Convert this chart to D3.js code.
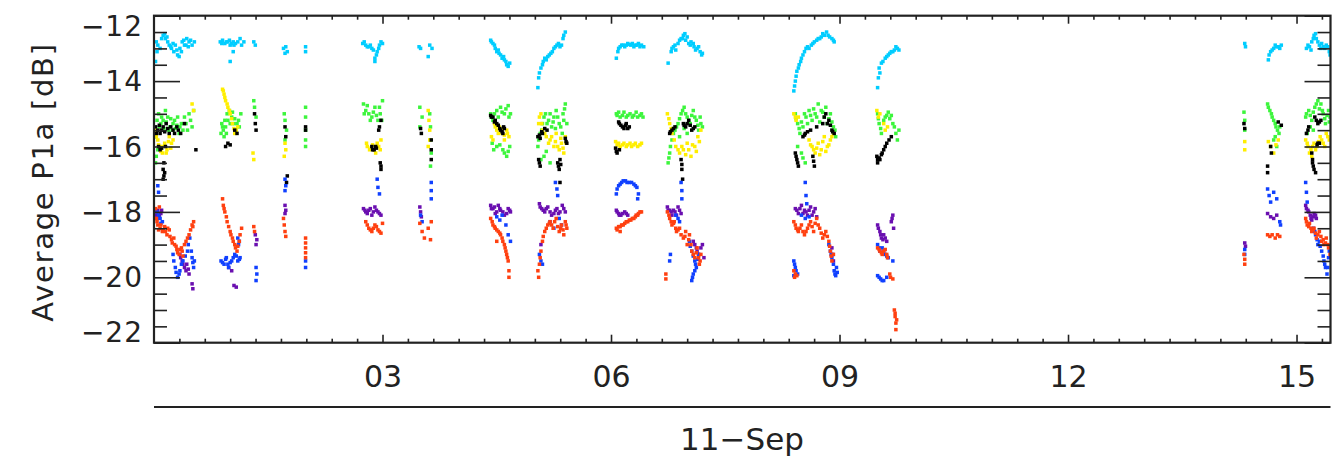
<!DOCTYPE html>
<html><head><meta charset="utf-8">
<script src="https://cdn.jsdelivr.net/npm/d3@7"></script>
<style>body{margin:0;background:#fff;}svg{display:block}</style>
</head><body><svg id="c" width="1336" height="459"></svg>
<script>
// ---- data: [hour of 11-Sep, dB] ----
const cyanPts = [
[0.02,-13.4],[0.05,-12.9],[0.08,-13.0],[0.12,-12.6],[0.15,-12.7],[0.18,-12.8],[0.2,-12.9],[0.23,-13.0],[0.26,-13.1],[0.28,-12.9],[0.31,-13.2],[0.34,-13.0],[0.37,-12.8],[0.4,-12.9],[0.43,-12.7],[0.46,-12.8],[0.5,-12.9],[0.53,-12.8],
[0.1,-12.7],[0.14,-12.55],[0.17,-12.65],[0.22,-12.95],[0.25,-12.85],[0.3,-13.05],[0.33,-13.25],[0.36,-13.1],[0.39,-12.75],[0.42,-12.9],[0.45,-12.95],[0.48,-12.75],[0.04,-13.1],[0.03,-12.8],
[0.87,-12.8],[0.9,-12.75],[0.93,-12.85],[0.97,-12.8],[1.0,-12.9],[1.04,-12.8],[1.07,-12.85],[1.0,-13.4],[1.13,-12.7],[1.15,-12.9],
[0.89,-12.85],[0.95,-12.8],[0.99,-12.75],[1.02,-12.85],[1.05,-12.9],[1.1,-12.8],[1.04,-13.1],[1.18,-12.8],
[1.31,-12.8],[1.33,-12.9],
[1.70,-13.0],[1.73,-12.95],[1.75,-13.1],[1.72,-13.15],
[1.99,-12.95],[1.99,-13.1],
[2.74,-12.85],[2.78,-12.9],[2.82,-12.95],[2.86,-13.0],[2.9,-13.3],[2.93,-13.1],[2.96,-12.9],[3.0,-12.85],[2.9,-13.4],
[2.76,-12.8],[2.8,-12.95],[2.84,-12.9],[2.88,-13.05],[2.92,-13.2],[2.95,-13.0],[2.98,-12.8],
[3.48,-12.95],[3.5,-13.0],[3.62,-12.9],[3.65,-13.0],[3.6,-13.25],
[4.42,-12.75],[4.45,-12.85],[4.48,-13.0],[4.5,-13.1],[4.53,-13.15],[4.57,-13.3],[4.6,-13.35],[4.63,-13.5],[4.67,-13.45],
[4.43,-12.8],[4.47,-12.9],[4.52,-13.05],[4.55,-13.2],[4.59,-13.25],[4.62,-13.4],[4.65,-13.55],
[5.04,-14.2],[5.05,-13.9],[5.08,-13.6],[5.11,-13.4],[5.15,-13.35],[5.19,-13.2],[5.23,-13.1],[5.27,-12.95],[5.31,-12.85],[5.35,-12.9],[5.38,-12.6],[5.4,-12.5],
[5.06,-13.75],[5.1,-13.5],[5.13,-13.3],[5.17,-13.25],[5.21,-13.15],[5.25,-13.0],[5.29,-12.9],[5.33,-12.95],[5.37,-12.7],
[6.07,-13.3],[6.09,-13.1],[6.12,-12.95],[6.16,-12.9],[6.2,-12.9],[6.24,-12.88],[6.28,-12.85],[6.32,-12.9],[6.36,-12.85],[6.4,-12.9],[6.43,-12.95],
[6.1,-13.0],[6.14,-12.9],[6.18,-12.95],[6.22,-12.85],[6.26,-12.9],[6.3,-12.95],[6.34,-12.9],[6.38,-12.95],
[6.75,-13.45],[6.79,-13.1],[6.82,-12.95],[6.85,-13.05],[6.88,-12.85],[6.92,-12.7],[6.95,-12.6],[6.98,-12.75],[7.02,-12.85],[7.05,-12.8],[7.09,-12.95],[7.13,-13.0],[7.17,-13.1],[7.2,-13.15],
[6.8,-13.0],[6.84,-12.9],[6.9,-12.75],[6.94,-12.7],[6.97,-12.55],[7.0,-12.65],[7.04,-12.9],[7.08,-12.85],[7.11,-13.05],[7.15,-12.95],[7.19,-13.2],
[8.4,-14.3],[8.42,-14.0],[8.44,-13.7],[8.47,-13.5],[8.5,-13.3],[8.54,-13.1],[8.58,-12.95],[8.63,-12.9],[8.67,-12.8],[8.72,-12.7],[8.76,-12.65],[8.8,-12.6],[8.85,-12.6],[8.9,-12.7],[8.93,-12.8],
[8.41,-14.15],[8.43,-13.85],[8.46,-13.6],[8.49,-13.4],[8.52,-13.2],[8.56,-13.0],[8.6,-13.0],[8.65,-12.85],[8.7,-12.75],[8.74,-12.7],[8.78,-12.55],[8.83,-12.5],[8.87,-12.65],[8.92,-12.75],
[9.5,-14.2],[9.51,-13.9],[9.52,-13.6],[9.55,-13.45],[9.6,-13.3],[9.64,-13.2],[9.68,-13.1],[9.72,-13.05],[9.76,-13.0],
[9.53,-13.75],[9.57,-13.4],[9.62,-13.25],[9.66,-13.15],[9.7,-13.1],[9.74,-12.95],[9.78,-13.05],
[14.32,-12.85],[14.33,-12.95],
[14.63,-13.35],[14.66,-13.1],[14.7,-13.0],[14.74,-12.95],[14.78,-13.0],[14.8,-12.9],
[14.64,-13.2],[14.68,-13.05],[14.72,-12.9],[14.76,-12.95],
[15.13,-13.0],[15.17,-12.95],[15.2,-12.8],[15.23,-12.6],[15.26,-12.7],[15.3,-12.9],[15.33,-12.85],[15.37,-13.0],[15.41,-12.95],[15.44,-13.2],
[15.15,-12.9],[15.19,-13.05],[15.22,-12.7],[15.25,-12.55],[15.28,-12.8],[15.32,-13.0],[15.35,-12.95],[15.39,-12.9],[15.43,-13.1]
];
const greenPts = [
[0.02,-16.5],[0.03,-15.7],[0.06,-15.0],[0.09,-15.3],[0.12,-15.2],[0.15,-14.9],[0.18,-15.1],[0.21,-15.4],[0.24,-15.5],[0.27,-15.2],[0.3,-15.35],[0.33,-15.6],[0.36,-15.3],[0.4,-15.1],[0.44,-15.5],[0.48,-15.2],[0.5,-15.4],[0.52,-14.9],
[0.04,-15.2],[0.07,-15.4],[0.1,-15.1],[0.13,-15.45],[0.16,-15.25],[0.19,-15.5],[0.22,-15.15],[0.25,-15.3],[0.28,-15.45],[0.31,-15.1],[0.34,-15.4],[0.38,-15.5],[0.42,-15.3],[0.46,-15.0],[0.03,-16.3],[0.05,-16.1],
[0.88,-15.6],[0.9,-15.4],[0.93,-15.2],[0.96,-15.0],[0.99,-14.9],[1.02,-15.1],[1.05,-15.3],[1.08,-15.5],[1.11,-15.2],[1.14,-15.0],[0.92,-15.7],
[0.89,-15.3],[0.91,-15.5],[0.94,-15.4],[0.97,-15.2],[1.0,-15.3],[1.03,-14.95],[1.06,-15.15],[1.09,-15.3],[1.12,-15.4],[0.95,-15.6],
[1.31,-14.6],[1.32,-14.8],[1.34,-15.1],
[1.71,-15.0],[1.72,-15.2],[1.74,-15.5],[1.72,-15.8],
[1.99,-14.8],[1.99,-15.1],[1.99,-15.5],[1.99,-15.8],[1.99,-16.0],
[2.75,-14.7],[2.78,-14.9],[2.82,-15.0],[2.86,-15.1],[2.9,-14.8],[2.94,-15.2],[2.97,-15.0],[3.0,-14.6],
[2.76,-15.0],[2.8,-14.75],[2.84,-15.2],[2.88,-14.95],[2.92,-15.05],[2.96,-14.8],[2.99,-15.2],
[3.49,-14.8],[3.52,-15.1],[3.49,-15.4],[3.62,-15.0],[3.63,-15.4],[3.63,-15.8],[3.64,-16.2],[3.63,-16.6],
[4.42,-15.0],[4.45,-15.2],[4.5,-14.9],[4.55,-14.8],[4.6,-15.0],[4.65,-14.75],[4.68,-15.0],[4.44,-15.9],[4.5,-16.0],[4.58,-16.1],[4.63,-16.3],[4.67,-16.0],
[4.43,-15.1],[4.47,-15.0],[4.52,-15.1],[4.57,-14.95],[4.62,-14.85],[4.66,-15.1],[4.46,-16.1],[4.54,-15.95],[4.6,-16.2],[4.65,-16.15],
[5.04,-16.0],[5.07,-15.6],[5.1,-15.3],[5.14,-15.0],[5.18,-15.2],[5.22,-15.4],[5.25,-15.1],[5.28,-14.9],[5.32,-15.3],[5.36,-15.6],[5.38,-15.2],[5.4,-14.7],[5.12,-16.3],[5.2,-16.5],
[5.05,-15.8],[5.09,-15.5],[5.12,-15.1],[5.16,-15.3],[5.2,-15.0],[5.24,-15.25],[5.27,-15.45],[5.3,-15.1],[5.34,-15.4],[5.37,-15.0],[5.39,-14.85],[5.42,-15.3],[5.15,-16.15],[5.08,-16.4],
[6.07,-15.0],[6.1,-14.95],[6.15,-15.05],[6.2,-15.1],[6.25,-15.0],[6.3,-15.05],[6.35,-15.1],[6.4,-15.0],
[6.08,-15.05],[6.12,-15.1],[6.17,-14.95],[6.22,-15.05],[6.28,-15.1],[6.33,-14.95],[6.38,-15.05],[6.42,-15.1],
[6.75,-16.5],[6.77,-16.2],[6.8,-15.8],[6.84,-15.5],[6.88,-15.3],[6.92,-15.0],[6.96,-14.8],[7.0,-15.1],[7.04,-15.3],[7.08,-14.9],[7.12,-15.2],[7.15,-15.5],[7.18,-15.3],[6.9,-15.7],[7.0,-15.6],
[6.76,-16.35],[6.78,-16.0],[6.82,-15.6],[6.86,-15.4],[6.9,-15.15],[6.94,-14.9],[6.98,-15.0],[7.02,-15.2],[7.06,-15.05],[7.1,-15.1],[7.14,-15.35],[7.17,-15.1],[7.2,-15.4],[6.96,-15.45],
[8.42,-15.0],[8.45,-15.3],[8.48,-15.6],[8.52,-15.4],[8.56,-15.1],[8.6,-14.9],[8.64,-15.2],[8.68,-15.0],[8.72,-14.7],[8.76,-14.9],[8.8,-15.1],[8.84,-15.3],[8.88,-15.0],[8.92,-15.4],[8.95,-15.7],[8.5,-16.2],[8.55,-16.5],
[8.43,-15.15],[8.47,-15.45],[8.5,-15.25],[8.54,-15.0],[8.58,-15.3],[8.62,-15.05],[8.66,-14.85],[8.7,-15.1],[8.74,-15.25],[8.78,-14.95],[8.82,-14.8],[8.86,-15.15],[8.9,-15.25],[8.94,-15.5],[8.52,-16.35],[8.45,-16.0],
[9.5,-15.0],[9.52,-15.3],[9.55,-15.6],[9.6,-15.1],[9.64,-14.95],[9.68,-15.05],[9.72,-15.4],[9.76,-15.8],[9.78,-15.5],
[9.51,-15.15],[9.54,-15.45],[9.58,-15.2],[9.62,-15.05],[9.66,-15.15],[9.7,-15.3],[9.74,-15.6],
[14.31,-14.95],[14.32,-15.2],[14.32,-15.5],
[14.62,-14.7],[14.65,-14.9],[14.68,-15.1],[14.72,-15.3],[14.75,-15.5],[14.78,-15.4],[14.7,-15.8],[14.74,-16.0],
[14.63,-14.8],[14.67,-15.0],[14.7,-15.2],[14.73,-15.4],[14.77,-15.6],[14.72,-15.7],
[15.12,-15.1],[15.16,-14.9],[15.2,-15.2],[15.24,-14.8],[15.28,-14.6],[15.32,-14.7],[15.35,-15.0],[15.38,-15.3],[15.42,-14.9],[15.44,-15.1],[15.14,-15.6],[15.22,-15.5],
[15.13,-15.0],[15.18,-15.05],[15.22,-14.95],[15.26,-14.7],[15.3,-14.85],[15.34,-14.9],[15.37,-15.15],[15.4,-15.05],[15.43,-15.25],[15.18,-15.4]
];
const yellowPts = [
[0.02,-15.5],[0.05,-15.8],[0.08,-16.0],[0.11,-16.2],[0.14,-15.9],[0.17,-16.1],[0.2,-15.7],[0.23,-15.9],[0.5,-14.7],[0.52,-14.9],
[0.03,-15.7],[0.06,-15.95],[0.09,-16.15],[0.12,-16.0],[0.16,-16.2],[0.19,-15.85],[0.22,-16.05],[0.25,-15.8],
[0.9,-14.25],[0.92,-14.4],[0.94,-14.6],[0.97,-14.8],[1.0,-15.0],[1.03,-15.3],[1.06,-15.6],[1.1,-15.4],
[0.91,-14.3],[0.93,-14.5],[0.96,-14.7],[0.99,-14.9],[1.02,-15.15],[1.05,-15.45],[1.08,-15.5],
[1.3,-16.2],[1.31,-16.4],
[1.72,-15.9],[1.73,-16.1],[1.71,-16.3],
[2.79,-15.9],[2.83,-16.1],[2.87,-15.95],[2.91,-16.2],[2.95,-16.0],[2.98,-15.8],
[2.8,-16.0],[2.85,-16.05],[2.89,-16.1],[2.93,-15.9],[2.97,-16.1],
[3.6,-14.9],[3.61,-15.2],[3.62,-15.5],[3.62,-15.8],[3.6,-16.0],
[4.47,-15.3],[4.5,-15.5],[4.53,-15.4],[4.57,-15.6],[4.6,-15.8],[4.63,-15.5],[4.66,-15.7],[4.43,-15.7],
[4.48,-15.4],[4.52,-15.6],[4.56,-15.45],[4.6,-15.65],[4.64,-15.6],[4.45,-15.8],
[5.05,-15.3],[5.08,-15.0],[5.1,-15.5],[5.15,-15.7],[5.2,-15.8],[5.25,-16.0],[5.28,-15.6],[5.32,-16.1],[5.35,-15.9],[5.38,-16.2],[5.4,-15.7],
[5.06,-15.1],[5.09,-15.3],[5.13,-15.6],[5.18,-15.9],[5.22,-15.7],[5.27,-15.85],[5.3,-16.0],[5.34,-15.75],[5.37,-16.05],[5.41,-15.9],
[6.06,-15.85],[6.1,-15.9],[6.15,-15.95],[6.2,-16.0],[6.25,-15.9],[6.3,-15.95],[6.35,-16.0],[6.4,-15.9],
[6.08,-15.95],[6.12,-16.0],[6.17,-15.9],[6.22,-15.95],[6.27,-16.0],[6.32,-15.9],[6.38,-15.95],
[6.74,-15.0],[6.77,-15.3],[6.8,-15.6],[6.85,-16.0],[6.9,-16.2],[6.95,-16.1],[7.0,-15.9],[7.05,-16.3],[7.1,-16.0],[7.14,-15.7],[7.18,-15.5],
[6.76,-15.15],[6.79,-15.45],[6.83,-15.8],[6.88,-16.1],[6.93,-16.0],[6.98,-16.25],[7.02,-16.1],[7.07,-15.95],[7.12,-16.15],[7.16,-15.85],
[8.4,-15.0],[8.43,-15.2],[8.46,-15.1],[8.6,-15.8],[8.64,-16.0],[8.68,-16.2],[8.72,-15.9],[8.76,-16.1],[8.8,-15.7],[8.84,-16.0],[8.88,-15.8],[8.92,-15.6],
[8.42,-15.1],[8.62,-15.95],[8.66,-16.1],[8.7,-16.05],[8.74,-16.25],[8.78,-15.85],[8.82,-16.15],[8.86,-15.95],[8.9,-15.7],
[9.49,-14.9],[9.51,-15.1],[9.53,-15.0],[9.58,-15.3],[9.6,-15.5],[9.63,-15.4],
[14.32,-15.85],[14.32,-16.1],
[14.63,-15.85],[14.66,-16.0],[14.7,-16.2],[14.73,-15.95],[14.76,-15.8],
[15.12,-15.8],[15.15,-16.0],[15.19,-16.1],[15.23,-15.9],[15.27,-16.0],[15.31,-15.7],[15.35,-15.9],[15.39,-15.6],[15.43,-15.8],[15.2,-16.3],
[15.14,-15.9],[15.17,-16.2],[15.21,-16.0],[15.25,-16.1],[15.29,-15.85],[15.33,-15.8],[15.37,-16.0],[15.41,-15.7]
];
const blackPts = [
[0.02,-15.4],[0.05,-15.5],[0.08,-15.6],[0.12,-15.4],[0.16,-15.3],[0.2,-15.6],[0.25,-15.5],[0.3,-15.4],[0.35,-15.6],[0.4,-15.3],[0.06,-16.0],[0.1,-16.05],[0.15,-16.0],[0.13,-16.5],[0.14,-16.8],[0.12,-17.0],[0.55,-16.1],
[0.03,-15.6],[0.07,-15.35],[0.1,-15.5],[0.14,-15.55],[0.18,-15.45],[0.22,-15.4],[0.27,-15.6],[0.32,-15.5],[0.08,-16.1],[0.12,-16.7],[0.13,-16.9],
[0.94,-16.0],[0.97,-15.9],[1.0,-15.95],[1.06,-15.5],[1.09,-15.6],
[1.32,-15.0],[1.33,-15.3],[1.34,-15.5],
[1.72,-15.4],[1.73,-15.7],[1.75,-16.9],[1.74,-17.1],
[1.99,-15.4],[1.99,-15.5],
[2.86,-16.0],[2.89,-16.1],[2.92,-16.05],[2.95,-15.5],[2.98,-15.2],[2.97,-16.5],[2.98,-16.7],
[2.87,-16.1],[2.91,-16.0],[2.96,-15.4],[2.98,-16.6],
[3.5,-15.45],[3.51,-15.6],[3.64,-15.8],[3.64,-16.1],[3.64,-16.4],
[4.42,-15.05],[4.45,-15.1],[4.48,-15.2],[4.52,-15.35],[4.55,-15.5],[4.58,-15.6],[4.6,-15.45],
[4.43,-15.1],[4.47,-15.25],[4.5,-15.3],[4.54,-15.45],[4.57,-15.55],[4.59,-15.4],
[5.04,-15.7],[5.07,-15.75],[5.1,-15.6],[5.16,-15.5],[5.05,-16.4],[5.07,-16.6],[5.3,-16.5],[5.32,-16.7],[5.34,-16.55],[5.33,-17.1],[5.4,-15.75],[5.42,-15.9],
[5.06,-15.65],[5.09,-15.55],[5.13,-15.45],[5.06,-16.5],[5.31,-16.6],[5.33,-16.4],[5.41,-15.85],
[6.1,-15.25],[6.13,-15.35],[6.17,-15.45],[6.2,-15.3],[6.24,-15.4],[6.06,-16.05],[6.08,-16.2],[6.11,-16.1],
[6.11,-15.3],[6.15,-15.4],[6.19,-15.35],[6.22,-15.45],[6.07,-16.15],
[6.77,-15.6],[6.8,-15.5],[6.84,-15.4],[6.95,-15.3],[6.98,-15.4],[7.02,-15.2],[7.06,-15.5],[7.1,-15.4],[6.92,-16.4],[6.93,-16.7],[6.94,-17.0],
[6.78,-15.55],[6.82,-15.45],[6.96,-15.35],[7.0,-15.3],[7.04,-15.35],[7.08,-15.45],[6.93,-16.55],
[8.42,-16.2],[8.44,-16.4],[8.46,-16.6],[8.52,-15.7],[8.55,-15.6],[8.62,-15.5],[8.7,-15.4],[8.78,-15.3],[8.82,-15.0],[8.86,-15.2],[8.9,-15.5],[8.93,-15.6],[8.65,-16.3],[8.67,-16.6],
[8.43,-16.3],[8.45,-16.5],[8.54,-15.65],[8.58,-15.55],[8.8,-15.1],[8.84,-15.3],[8.88,-15.35],[8.91,-15.55],[8.66,-16.45],
[9.49,-16.3],[9.5,-16.5],[9.53,-16.4],[9.56,-16.2],[9.6,-16.0],[9.65,-15.8],[9.68,-15.7],
[9.5,-16.4],[9.52,-16.35],[9.55,-16.25],[9.58,-16.1],[9.62,-15.9],
[14.31,-15.3],[14.32,-15.45],
[14.76,-15.25],[14.8,-15.35],[14.66,-16.0],[14.67,-16.2],[14.62,-16.6],[14.62,-16.8],
[15.13,-15.6],[15.16,-15.4],[15.24,-15.1],[15.28,-15.3],[15.32,-15.2],[15.27,-15.95],[15.3,-15.9],[15.2,-16.2],[15.21,-16.4],[15.22,-16.6],[15.25,-16.8],
[15.15,-15.5],[15.26,-15.2],[15.3,-15.25],[15.28,-15.9],[15.21,-16.5],[15.23,-16.7]
];
const bluePts = [
[0.05,-17.2],[0.06,-17.4],[0.04,-18.0],[0.08,-18.2],[0.11,-18.3],[0.25,-19.3],[0.28,-19.7],[0.31,-20.0],[0.34,-19.8],[0.38,-19.5],[0.44,-19.2],[0.47,-18.8],[0.5,-19.4],[0.52,-19.7],[0.53,-19.5],
[0.26,-19.5],[0.29,-19.85],[0.33,-19.9],[0.36,-19.6],[0.41,-19.35],[0.45,-19.0],[0.49,-19.2],[0.51,-19.55],[0.06,-18.1],[0.09,-18.35],
[0.88,-19.5],[0.92,-19.6],[0.95,-19.4],[0.98,-19.7],[1.02,-19.5],[1.06,-19.3],[1.1,-19.5],[1.13,-19.4],[1.12,-18.9],[1.1,-18.8],
[0.9,-19.55],[0.94,-19.45],[0.97,-19.6],[1.0,-19.55],[1.04,-19.4],[1.08,-19.35],[1.11,-19.0],[1.12,-19.45],
[1.34,-19.7],[1.35,-19.9],[1.34,-20.1],
[1.72,-17.0],[1.73,-17.2],[1.72,-17.35],
[1.99,-19.5],[1.99,-19.7],
[2.93,-17.0],[2.94,-17.25],[2.96,-17.45],
[3.64,-17.1],[3.64,-17.35],[3.64,-17.6],[3.5,-18.1],[3.52,-18.3],
[4.5,-18.15],[4.54,-18.25],[4.57,-18.1],[4.62,-18.4],[4.65,-18.7],[4.68,-18.9],
[5.27,-17.1],[5.29,-17.3],[5.3,-17.5],[5.06,-19.3],[5.08,-19.5],[5.1,-19.6],[5.2,-18.3],[5.25,-18.5],[5.32,-18.2],[5.35,-18.4],
[6.07,-17.45],[6.1,-17.2],[6.14,-17.1],[6.19,-17.05],[6.24,-17.1],[6.3,-17.15],[6.34,-17.25],[6.36,-17.45],[6.35,-17.6],
[6.08,-17.3],[6.12,-17.15],[6.16,-17.05],[6.21,-17.1],[6.27,-17.1],[6.32,-17.2],
[6.92,-17.1],[6.93,-17.35],[6.93,-17.6],[6.85,-18.1],[6.9,-18.3],[6.88,-18.2],[7.03,-18.9],[7.06,-19.2],[7.1,-19.5],[7.12,-19.7],[7.08,-19.9],[7.06,-20.1],[7.15,-19.3],[6.78,-19.3],[6.77,-19.5],
[7.04,-19.05],[7.08,-19.35],[7.11,-19.6],[7.1,-19.8],[7.07,-20.0],[7.14,-19.45],
[8.55,-17.1],[8.56,-17.5],[8.57,-17.75],[8.5,-18.1],[8.55,-18.2],[8.6,-18.15],[8.4,-19.5],[8.42,-19.7],[8.4,-19.95],[8.45,-19.9],[8.88,-19.2],[8.9,-19.4],[8.93,-19.8],[8.95,-19.95],[8.97,-19.85],[8.86,-19.0],
[8.41,-19.6],[8.43,-19.8],[8.89,-19.3],[8.92,-19.6],[8.94,-19.9],[8.96,-19.7],
[9.5,-19.0],[9.53,-19.2],[9.56,-19.1],[9.6,-19.3],[9.64,-19.4],[9.7,-19.5],[9.5,-19.95],[9.54,-20.05],[9.58,-20.1],[9.62,-20.0],
[9.52,-19.1],[9.58,-19.2],[9.62,-19.35],[9.52,-20.0],[9.56,-20.1],
[14.32,-19.15],[14.32,-19.3],
[14.62,-17.3],[14.64,-17.5],[14.66,-17.7],[14.7,-17.4],[14.74,-17.6],[14.78,-18.3],[14.79,-18.4],
[15.12,-17.1],[15.13,-17.4],[15.14,-17.7],[15.22,-18.5],[15.25,-18.7],[15.28,-19.0],[15.3,-18.9],[15.33,-19.2],[15.36,-19.5],[15.38,-19.7],[15.4,-19.9],[15.42,-19.4],[15.44,-19.1],
[15.24,-18.6],[15.27,-18.85],[15.31,-19.05],[15.35,-19.35],[15.37,-19.6],[15.41,-19.7],[15.43,-19.2]
];
const purplePts = [
[0.02,-18.0],[0.04,-18.2],[0.07,-18.1],[0.1,-17.95],[0.34,-19.3],[0.37,-19.5],[0.4,-19.7],[0.43,-19.6],[0.46,-19.9],[0.5,-20.2],[0.51,-20.35],
[0.03,-18.1],[0.05,-17.95],[0.09,-18.05],[0.35,-19.4],[0.38,-19.6],[0.42,-19.8],[0.45,-19.75],
[0.98,-19.7],[1.02,-19.8],[1.05,-20.25],[1.08,-20.3],
[1.33,-18.7],[1.35,-18.85],[1.34,-19.0],
[1.72,-17.8],[1.73,-17.95],[1.72,-18.05],
[2.75,-17.9],[2.78,-18.0],[2.82,-17.95],[2.86,-18.1],[2.9,-17.85],[2.94,-18.0],[2.98,-18.1],
[2.77,-17.95],[2.8,-18.05],[2.84,-17.9],[2.88,-18.0],[2.92,-17.95],[2.96,-18.05],
[3.49,-17.85],[3.5,-18.0],[3.51,-18.15],
[4.42,-17.8],[4.45,-17.9],[4.48,-18.05],[4.52,-17.8],[4.55,-17.95],[4.6,-18.1],[4.65,-17.9],[4.68,-18.0],
[4.43,-17.9],[4.47,-17.85],[4.5,-18.0],[4.54,-17.9],[4.58,-18.0],[4.63,-18.05],[4.67,-17.95],
[5.06,-17.75],[5.09,-17.9],[5.13,-18.0],[5.17,-17.85],[5.22,-18.1],[5.27,-17.95],[5.31,-18.05],[5.36,-17.8],[5.4,-18.0],[5.08,-19.0],
[5.07,-17.85],[5.11,-17.95],[5.15,-17.9],[5.2,-18.0],[5.25,-18.05],[5.29,-17.9],[5.33,-18.0],[5.38,-17.9],
[6.07,-17.95],[6.1,-18.05],[6.13,-18.1],[6.18,-18.0],[6.22,-18.1],
[6.08,-18.0],[6.11,-18.1],[6.15,-18.05],[6.2,-18.05],
[6.74,-17.85],[6.77,-17.95],[6.8,-18.1],[6.84,-18.0],[6.88,-17.85],[6.92,-18.05],[7.08,-18.9],[7.12,-19.1],[7.15,-19.3],[7.2,-19.0],[7.22,-19.4],
[6.75,-17.95],[6.79,-18.0],[6.82,-17.95],[6.86,-18.1],[6.9,-17.95],[7.1,-19.0],[7.13,-19.2],[7.18,-19.1],
[8.42,-17.9],[8.46,-18.05],[8.5,-17.8],[8.54,-17.95],[8.58,-18.1],[8.62,-17.85],[8.66,-18.0],[8.7,-18.15],[8.9,-19.1],[8.91,-19.3],[8.92,-19.5],
[8.44,-17.95],[8.48,-17.9],[8.52,-18.05],[8.56,-18.0],[8.6,-17.95],[8.64,-18.1],[8.68,-17.9],
[9.5,-18.4],[9.53,-18.6],[9.55,-18.8],[9.58,-18.7],[9.62,-18.9],[9.68,-18.3],[9.7,-18.1],[9.71,-18.5],
[9.51,-18.5],[9.54,-18.7],[9.57,-18.85],[9.6,-18.8],[9.69,-18.2],
[14.32,-18.95],[14.33,-19.05],
[14.62,-18.05],[14.66,-18.15],[14.7,-18.2],[14.74,-18.1],
[15.12,-17.8],[15.15,-17.95],[15.18,-18.1],[15.2,-18.25],[15.23,-18.05],[15.26,-18.2],
[15.13,-17.9],[15.16,-18.0],[15.19,-18.2],[15.22,-18.15],[15.25,-18.1]
];
const redPts = [
[0.02,-17.9],[0.03,-18.2],[0.05,-18.4],[0.08,-18.5],[0.11,-18.6],[0.14,-18.45],[0.17,-18.7],[0.2,-18.55],[0.23,-18.85],[0.27,-19.0],[0.3,-19.15],[0.33,-19.3],[0.36,-19.1],[0.38,-19.35],[0.42,-18.9],[0.46,-18.7],[0.5,-18.4],[0.52,-18.3],[0.07,-17.85],
[0.04,-18.3],[0.06,-18.55],[0.09,-18.4],[0.12,-18.55],[0.15,-18.6],[0.18,-18.5],[0.21,-18.75],[0.24,-18.95],[0.26,-18.8],[0.29,-19.05],[0.31,-19.25],[0.34,-19.15],[0.37,-19.2],[0.4,-19.0],[0.44,-18.8],[0.48,-18.55],[0.51,-18.45],
[0.9,-17.6],[0.91,-17.8],[0.93,-18.0],[0.96,-18.3],[1.0,-18.6],[1.03,-18.8],[1.06,-19.0],[1.09,-19.2],[1.12,-18.9],[1.15,-18.5],
[0.92,-17.9],[0.95,-18.15],[0.98,-18.45],[1.01,-18.7],[1.04,-18.9],[1.07,-19.1],[1.1,-19.05],[1.13,-18.7],
[1.31,-18.45],[1.32,-18.6],
[1.7,-18.2],[1.71,-18.4],[1.72,-18.6],[1.73,-18.75],
[1.99,-18.8],[1.99,-18.95],[1.99,-19.1],[1.99,-19.25],[1.99,-19.4],
[2.78,-18.3],[2.82,-18.5],[2.86,-18.6],[2.9,-18.4],[2.94,-18.55],[2.98,-18.65],[3.0,-18.35],
[2.8,-18.4],[2.84,-18.55],[2.88,-18.5],[2.92,-18.45],[2.96,-18.6],
[3.49,-18.35],[3.52,-18.6],[3.55,-18.8],[3.6,-18.5],[3.63,-18.85],[3.64,-18.3],
[4.42,-18.2],[4.45,-18.4],[4.48,-18.5],[4.52,-18.6],[4.55,-18.7],[4.58,-18.9],[4.61,-19.1],[4.63,-19.3],[4.65,-19.5],[4.66,-19.8],[4.66,-20.0],[4.5,-18.9],
[4.44,-18.3],[4.47,-18.45],[4.5,-18.55],[4.54,-18.65],[4.57,-18.8],[4.6,-19.0],[4.62,-19.2],[4.64,-19.4],
[5.04,-19.8],[5.05,-20.0],[5.06,-19.6],[5.08,-19.2],[5.1,-18.9],[5.13,-18.6],[5.17,-18.4],[5.2,-18.3],[5.24,-18.5],[5.28,-18.2],[5.32,-18.6],[5.35,-18.4],[5.38,-18.7],[5.4,-18.3],[5.42,-18.5],
[5.11,-18.75],[5.15,-18.5],[5.19,-18.35],[5.22,-18.4],[5.26,-18.3],[5.3,-18.45],[5.34,-18.5],[5.37,-18.55],[5.41,-18.4],[5.07,-19.4],
[6.07,-18.5],[6.1,-18.45],[6.14,-18.4],[6.18,-18.35],[6.22,-18.3],[6.26,-18.25],[6.3,-18.2],[6.33,-18.1],[6.36,-18.05],[6.4,-18.0],[6.12,-18.6],
[6.08,-18.55],[6.12,-18.45],[6.16,-18.4],[6.2,-18.3],[6.24,-18.25],[6.28,-18.2],[6.32,-18.15],[6.35,-18.1],[6.38,-18.0],
[6.74,-18.0],[6.77,-18.2],[6.8,-18.4],[6.83,-18.3],[6.86,-18.6],[6.9,-18.5],[6.95,-18.8],[6.98,-18.6],[7.0,-19.0],[7.03,-18.7],[7.06,-19.2],[7.1,-19.4],[7.13,-19.1],[7.16,-19.6],[7.18,-19.3],[6.72,-19.9],[6.72,-20.05],
[6.76,-18.1],[6.79,-18.3],[6.82,-18.35],[6.85,-18.5],[6.88,-18.55],[6.92,-18.7],[6.97,-18.75],[7.02,-18.85],[7.05,-19.0],[7.08,-19.3],[7.12,-19.25],[7.15,-19.4],[7.17,-19.5],
[8.4,-18.3],[8.43,-18.5],[8.46,-18.6],[8.5,-18.4],[8.54,-18.7],[8.58,-18.5],[8.62,-18.3],[8.66,-18.6],[8.7,-18.2],[8.74,-18.5],[8.78,-18.8],[8.82,-18.6],[8.86,-18.9],[8.88,-19.2],[8.9,-19.5],[8.92,-19.3],[8.4,-19.8],[8.41,-20.0],[8.44,-19.95],
[8.42,-18.4],[8.45,-18.55],[8.48,-18.5],[8.52,-18.6],[8.56,-18.6],[8.6,-18.4],[8.64,-18.45],[8.68,-18.35],[8.72,-18.4],[8.76,-18.65],[8.8,-18.7],[8.84,-18.75],[8.87,-19.05],[8.89,-19.35],[8.42,-19.9],
[9.5,-19.1],[9.53,-19.2],[9.56,-19.3],[9.6,-19.15],[9.63,-19.4],[9.66,-19.9],[9.67,-20.0],[9.7,-20.05],[9.72,-21.0],[9.73,-21.2],[9.74,-21.4],[9.75,-21.3],[9.74,-21.6],
[9.52,-19.15],[9.55,-19.25],[9.58,-19.2],[9.62,-19.3],[9.73,-21.1],
[14.31,-19.3],[14.32,-19.45],[14.32,-19.6],
[14.62,-18.7],[14.65,-18.75],[14.68,-18.7],[14.72,-18.8],[14.75,-18.7],[14.78,-18.75],
[15.12,-18.2],[15.14,-18.4],[15.17,-18.35],[15.2,-18.6],[15.23,-18.5],[15.26,-18.8],[15.3,-18.6],[15.33,-18.9],[15.36,-19.0],[15.39,-18.8],[15.42,-19.1],[15.44,-19.3],
[15.13,-18.3],[15.16,-18.45],[15.19,-18.5],[15.22,-18.55],[15.25,-18.65],[15.28,-18.7],[15.32,-18.75],[15.35,-18.85],[15.38,-18.95],[15.41,-19.0]
];
const xTickValues = [3, 6, 9, 12, 15];
const xTickLabels = ["03", "06", "09", "12", "15"];
const yTickValues = [-12, -14, -16, -18, -20, -22];
const yTitle = "Average P1a [dB]";
const xTitle = "11\u2212Sep";

// ---- layout ----
const svg = d3.select("#c");
const L = 154, R = 1330.5, T = 15.7, B = 342.7;
const x = d3.scaleLinear().domain([0, 15.446]).range([L, R]);
const y = d3.scaleLinear().domain([-22, -12]).range([B, T]);
const ink = "#222";
const font = "DejaVu Sans, sans-serif";
const S = 3.5; // marker size

svg.append("defs").append("clipPath").attr("id", "clip")
  .append("rect").attr("x", L).attr("y", T).attr("width", R - L).attr("height", B - T);

const series = [
  {c: "#00cdff", p: cyanPts},
  {c: "#3cf53c", p: greenPts},
  {c: "#ffee00", p: yellowPts},
  {c: "#000000", p: blackPts},
  {c: "#6a0fb0", p: purplePts},
  {c: "#1040ff", p: bluePts},
  {c: "#ff4010", p: redPts}
];
const gd = svg.append("g").attr("clip-path", "url(#clip)");
series.forEach(s => {
  gd.append("g").selectAll("rect").data(s.p).join("rect")
    .attr("x", d => x(d[0]) - S / 2).attr("y", d => y(d[1]) - S / 2)
    .attr("width", S).attr("height", S).attr("fill", s.c);
});

// minor tick values (every 20 min / every 0.5 dB)
const xMinor = d3.range(1, 47).map(i => i / 3).filter(v => Math.abs(v - Math.round(v / 3) * 3) > 1e-6 && v < 15.446);
const yMinor = d3.range(-22, -11.9, 0.5).filter(v => v % 2 !== 0);

function styleAxis(g) {
  g.select(".domain").remove();
  g.selectAll("line").attr("stroke", ink).attr("stroke-width", 1.6);
  g.selectAll("text").attr("fill", ink).attr("font-family", font);
}
// bottom
svg.append("g").attr("transform", `translate(0,${B})`)
  .call(d3.axisBottom(x).tickValues(xTickValues).tickSize(-8).tickPadding(23)
    .tickFormat((d, i) => xTickLabels[i]))
  .call(styleAxis).call(g => g.selectAll("text").attr("font-size", 30));
svg.append("g").attr("transform", `translate(0,${B})`)
  .call(d3.axisBottom(x).tickValues(xMinor).tickSize(-4).tickFormat(""))
  .call(styleAxis);
// top
svg.append("g").attr("transform", `translate(0,${T})`)
  .call(d3.axisTop(x).tickValues(xTickValues).tickSize(-8).tickFormat(""))
  .call(styleAxis);
svg.append("g").attr("transform", `translate(0,${T})`)
  .call(d3.axisTop(x).tickValues(xMinor).tickSize(-4).tickFormat(""))
  .call(styleAxis);
// left
svg.append("g").attr("transform", `translate(${L},0)`)
  .call(d3.axisLeft(y).tickValues(yTickValues).tickSize(-26).tickPadding(11))
  .call(styleAxis)
  .call(g => g.selectAll("text").attr("font-size", 28).attr("letter-spacing", 1)
    .attr("dy", d => d === -12 ? "0.72em" : d === -22 ? "-0.04em" : "0.34em"));
svg.append("g").attr("transform", `translate(${L},0)`)
  .call(d3.axisLeft(y).tickValues(yMinor).tickSize(-13).tickFormat(""))
  .call(styleAxis);
// right
svg.append("g").attr("transform", `translate(${R},0)`)
  .call(d3.axisRight(y).tickValues(yTickValues).tickSize(-26).tickFormat(""))
  .call(styleAxis);
svg.append("g").attr("transform", `translate(${R},0)`)
  .call(d3.axisRight(y).tickValues(yMinor).tickSize(-13).tickFormat(""))
  .call(styleAxis);

// frame
svg.append("rect").attr("x", L).attr("y", T).attr("width", R - L).attr("height", B - T)
  .attr("fill", "none").attr("stroke", ink).attr("stroke-width", 2.2);

// date line + titles
svg.append("line").attr("x1", L).attr("x2", R).attr("y1", 407).attr("y2", 407)
  .attr("stroke", ink).attr("stroke-width", 2.2);
svg.append("text").attr("x", 742).attr("y", 450).attr("text-anchor", "middle")
  .attr("font-family", font).attr("font-size", 31).attr("fill", ink).text(xTitle);
svg.append("text").attr("transform", "translate(53,182) rotate(-90)")
  .attr("text-anchor", "middle").attr("font-family", font).attr("font-size", 29)
  .attr("letter-spacing", 1.7).attr("fill", ink).text(yTitle);
</script></body></html>
